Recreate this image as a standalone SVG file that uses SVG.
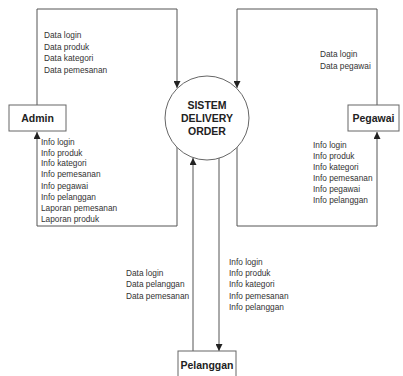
<svg xmlns="http://www.w3.org/2000/svg" width="403" height="376" viewBox="0 0 403 376">
  <style>
    .flow { fill: none; stroke: #555; stroke-width: 1; }
    .box { fill: #fff; stroke: #666; stroke-width: 1; }
    .proc { fill: #fff; stroke: #666; stroke-width: 1; }
    .lbl { font-family: "Liberation Sans", Arial, sans-serif; font-size: 8.3px; fill: #333; }
    .name { font-family: "Liberation Sans", Arial, sans-serif; font-size: 10.5px; font-weight: bold; fill: #222; text-anchor: middle; }
  </style>
  <defs>
    <marker id="arrow" viewBox="0 0 8 8" refX="8" refY="4" markerWidth="7" markerHeight="7" markerUnits="userSpaceOnUse" orient="auto">
      <path d="M0,0 L8,4 L0,8 Z" fill="#222"/>
    </marker>
  </defs>
  <rect width="403" height="376" fill="#fff"/>

  <!-- data flows -->
  <g id="connectors">
    <path class="flow" d="M37,105 V9 H177 V88" marker-end="url(#arrow)"/>
    <path class="flow" d="M177,147 V226 H37 V132" marker-end="url(#arrow)"/>
    <path class="flow" d="M377,105 V9 H237 V88" marker-end="url(#arrow)"/>
    <path class="flow" d="M237,147 V226 H377 V132" marker-end="url(#arrow)"/>
    <path class="flow" d="M193,351 V158" marker-end="url(#arrow)"/>
    <path class="flow" d="M219,158 V351" marker-end="url(#arrow)"/>
  </g>

  <!-- flow labels -->
  <g id="labels">
    <text class="lbl" x="44" y="38">Data login</text>
    <text class="lbl" x="44" y="50">Data produk</text>
    <text class="lbl" x="44" y="61">Data kategori</text>
    <text class="lbl" x="44" y="73">Data pemesanan</text>

    <text class="lbl" x="320" y="57">Data login</text>
    <text class="lbl" x="320" y="69">Data pegawai</text>

    <text class="lbl" x="41" y="145">Info login</text>
    <text class="lbl" x="41" y="156">Info produk</text>
    <text class="lbl" x="41" y="166">Info kategori</text>
    <text class="lbl" x="41" y="177">Info pemesanan</text>
    <text class="lbl" x="41" y="189">Info pegawai</text>
    <text class="lbl" x="41" y="200">Info pelanggan</text>
    <text class="lbl" x="41" y="211">Laporan pemesanan</text>
    <text class="lbl" x="41" y="222">Laporan produk</text>

    <text class="lbl" x="313" y="148">Info login</text>
    <text class="lbl" x="313" y="159">Info produk</text>
    <text class="lbl" x="313" y="170">Info kategori</text>
    <text class="lbl" x="313" y="181">Info pemesanan</text>
    <text class="lbl" x="313" y="192">Info pegawai</text>
    <text class="lbl" x="313" y="203">Info pelanggan</text>

    <text class="lbl" x="126" y="276">Data login</text>
    <text class="lbl" x="126" y="287">Data pelanggan</text>
    <text class="lbl" x="126" y="299">Data pemesanan</text>

    <text class="lbl" x="229" y="265">Info login</text>
    <text class="lbl" x="229" y="276">Info produk</text>
    <text class="lbl" x="229" y="287">Info kategori</text>
    <text class="lbl" x="229" y="299">Info pemesanan</text>
    <text class="lbl" x="229" y="310">Info pelanggan</text>
  </g>

  <g id="sistem">
    <circle class="proc" cx="207" cy="118" r="42"/>
    <text class="name" x="207" y="109" font-size="9">SISTEM</text>
    <text class="name" x="207" y="122" font-size="9">DELIVERY</text>
    <text class="name" x="207" y="135" font-size="9">ORDER</text>
  </g>

  <g id="admin">
    <rect class="box" x="9" y="105" width="57" height="26"/>
    <text class="name" x="37.5" y="122">Admin</text>
  </g>

  <g id="pegawai">
    <rect class="box" x="348" y="105" width="51" height="26"/>
    <text class="name" x="373.5" y="122">Pegawai</text>
  </g>

  <g id="pelanggan">
    <rect class="box" x="178" y="351" width="58" height="30"/>
    <text class="name" x="207" y="369">Pelanggan</text>
  </g>
</svg>
